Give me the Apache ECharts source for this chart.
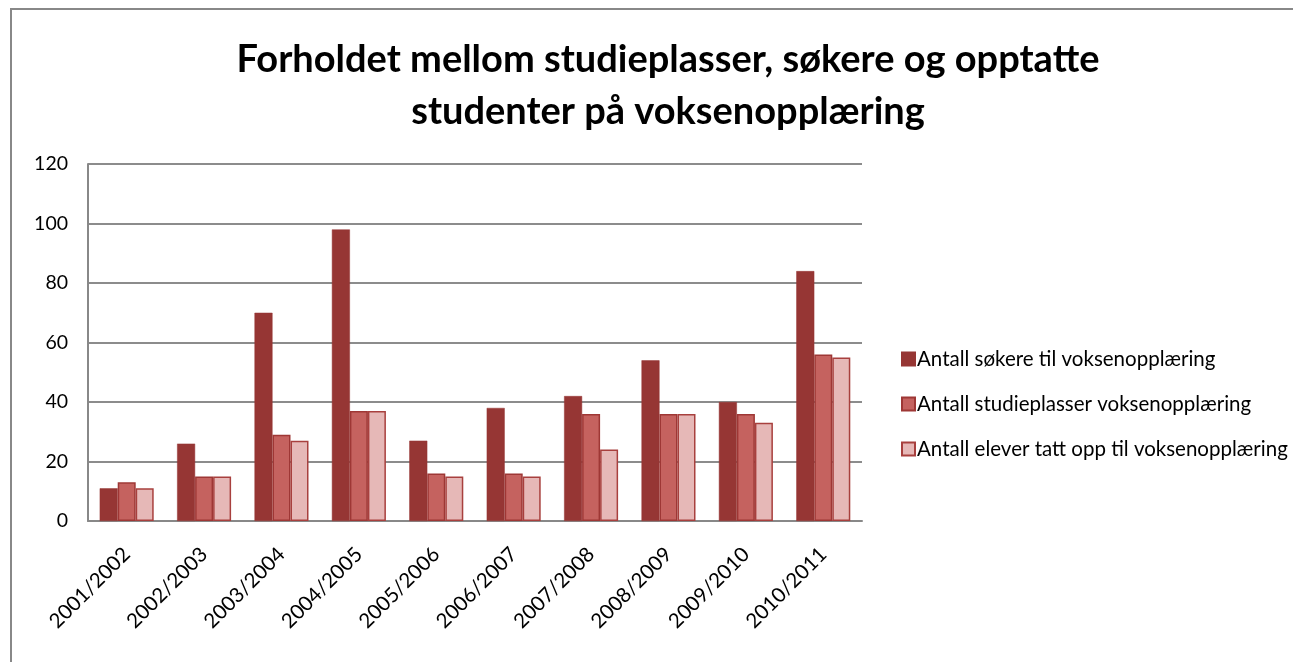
<!DOCTYPE html>
<html>
<head>
<meta charset="utf-8">
<script src="https://cdn.jsdelivr.net/npm/echarts@6/dist/echarts.min.js"></script>
<style>
  html, body { margin: 0; padding: 0; background: #fff; }
  #chart { width: 1293px; height: 662px; }
</style>
</head>
<body>
<div id="chart"></div>
<script>
// data
const years = ['2001/2002', '2002/2003', '2003/2004', '2004/2005', '2005/2006',
    '2006/2007', '2007/2008', '2008/2009', '2009/2010', '2010/2011']
const sokere = [11, 26, 70, 98, 27, 38, 42, 54, 40, 84]
const studieplasser = [13, 15, 29, 37, 16, 16, 36, 36, 36, 56]
const opptatt = [11, 15, 27, 37, 15, 15, 24, 36, 33, 55]
const seriesNames = [
    'Antall søkere til voksenopplæring',
    'Antall studieplasser voksenopplæring',
    'Antall elever tatt opp til voksenopplæring'
]
const yTicks = [0, 20, 40, 60, 80, 100, 120]

const font = 'Lato, "Open Sans", sans-serif'
const chart = echarts.init(document.getElementById('chart'))

const option = {
    animation: false,
    backgroundColor: '#fff',
    title: {
        text: 'Forholdet mellom studieplasser, søkere og opptatte\nstudenter på voksenopplæring',
        left: 663,
        top: 29,
        textAlign: 'center',
        textStyle: {
            fontFamily: font,
            fontWeight: 'bold',
            fontSize: 38,
            lineHeight: 52,
            color: '#000'
        }
    },
    legend: {
        orient: 'vertical',
        left: 896,
        top: 342,
        itemWidth: 13,
        itemHeight: 13,
        itemGap: 21,
        icon: 'rect',
        textStyle: { fontFamily: font, fontSize: 20.5, lineHeight: 24, color: '#000', padding: [0, 0, 0, -3] },
        data: seriesNames
    },
    grid: { left: 88, right: 431, top: 164, bottom: 141 },
    xAxis: {
        type: 'category',
        data: years,
        axisLine: { lineStyle: { color: '#888', width: 2 } },
        axisTick: { show: false },
        axisLabel: {
            rotate: 45,
            margin: 30,
            fontFamily: font,
            fontSize: 20.5,
            color: '#000',
            interval: 0
        }
    },
    yAxis: {
        type: 'value',
        min: yTicks[0],
        max: yTicks[yTicks.length - 1],
        interval: 20,
        axisLine: { show: true, lineStyle: { color: '#888', width: 2 } },
        axisTick: { show: false },
        axisLabel: { margin: 20, fontFamily: font, fontSize: 19.5, color: '#000' },
        splitLine: { lineStyle: { color: '#8c8c8c', width: 2 } }
    },
    series: [
        {
            name: seriesNames[0],
            type: 'bar',
            data: sokere,
            barWidth: 18,
            barGap: '0%',
            itemStyle: { color: '#963634', borderColor: '#963634', borderWidth: 0.5 }
        },
        {
            name: seriesNames[1],
            type: 'bar',
            data: studieplasser,
            barWidth: 18,
            barGap: '0%',
            itemStyle: { color: '#c5625f', borderColor: '#9e3735', borderWidth: 1.5 }
        },
        {
            name: seriesNames[2],
            type: 'bar',
            data: opptatt,
            barWidth: 18,
            barGap: '0%',
            itemStyle: { color: '#e6b8b7', borderColor: '#a8403e', borderWidth: 1.5 }
        }
    ],
    graphic: [
        {
            type: 'polyline',
            shape: { points: [[11, 662], [11, 9], [1293, 9]] },
            style: { stroke: '#888', lineWidth: 2, fill: null },
            silent: true
        }
    ]
}

chart.setOption(option)
</script>
</body>
</html>
